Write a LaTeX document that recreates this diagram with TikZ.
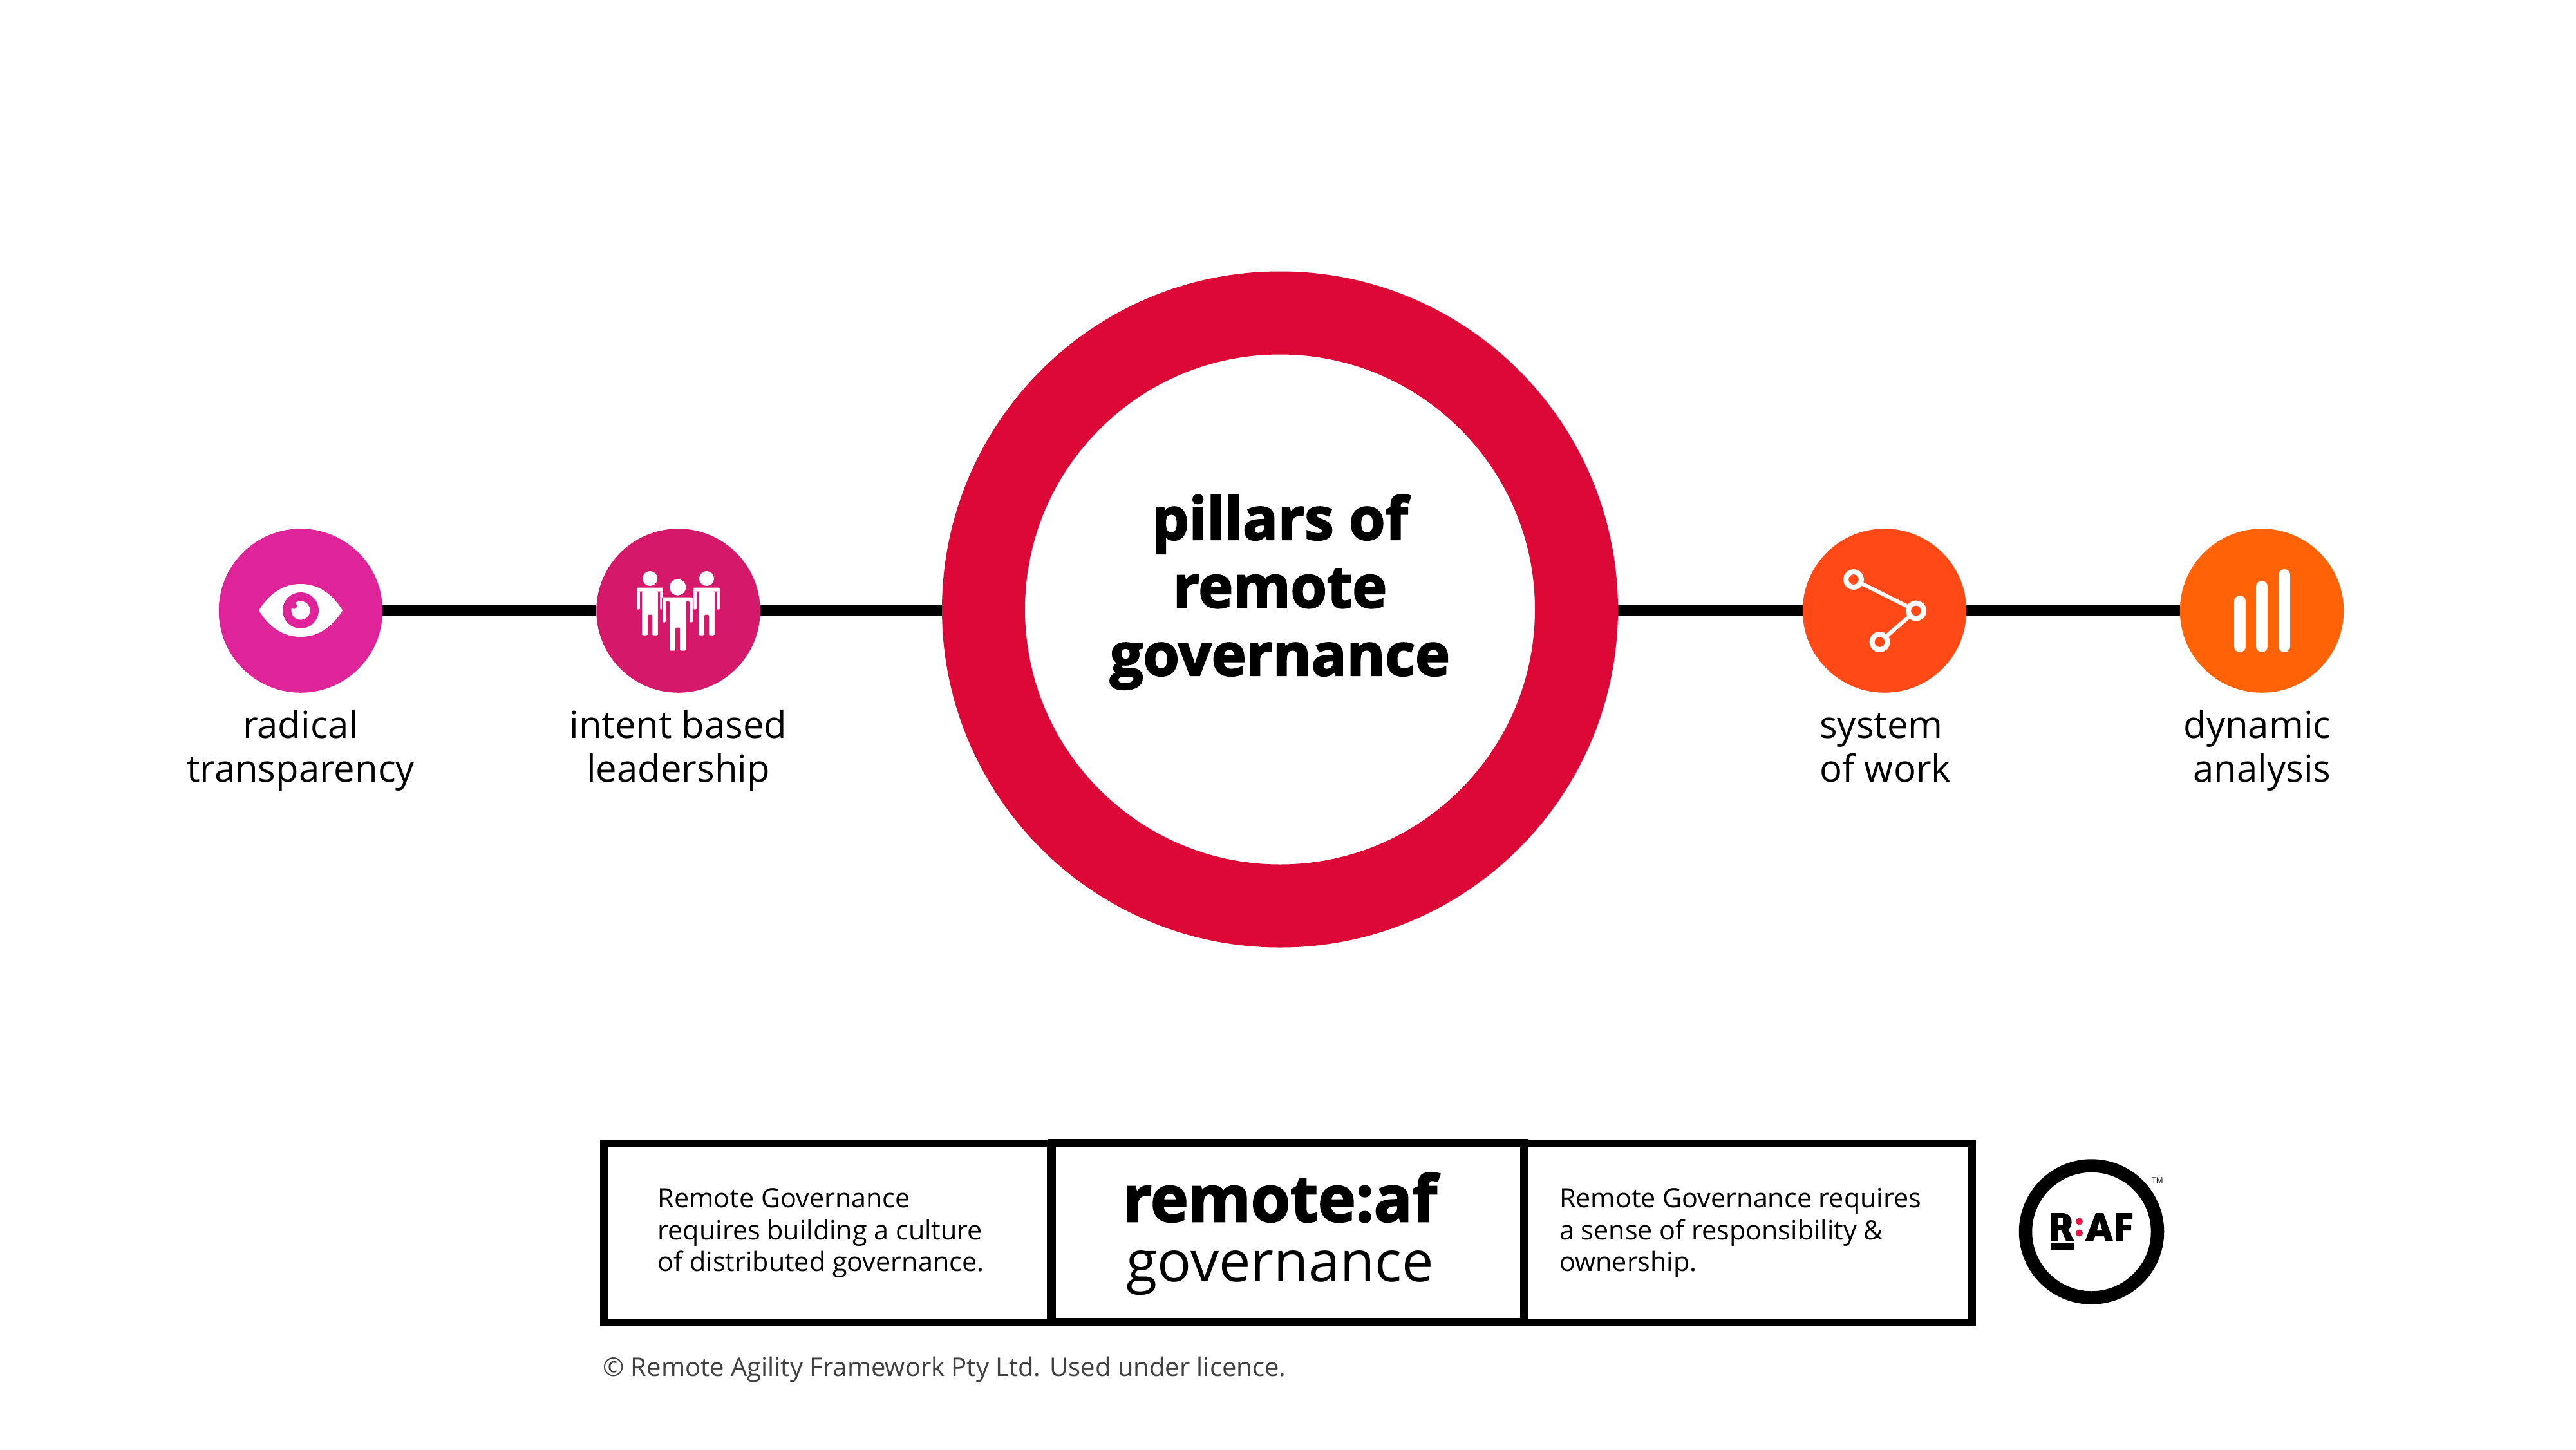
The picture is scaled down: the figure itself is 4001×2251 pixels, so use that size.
\documentclass[tikz,border=0pt]{standalone}
\usepackage{fontspec}
\setmainfont{Open Sans}
\newfontfamily\osxb[BoldFeatures={FakeBold=2.6}]{Open Sans}
\definecolor{ringred}{HTML}{DC0835}
\definecolor{cA}{HTML}{DE2498}
\definecolor{cB}{HTML}{D4186A}
\definecolor{cC}{HTML}{FF4A18}
\definecolor{cD}{HTML}{FF6305}
\definecolor{dotred}{HTML}{E8103F}
\tikzset{
  pillar/.style={circle,inner sep=0pt,minimum size=254.5pt},
  spine/.style={line width=17pt,black},
  lbl/.style={inner sep=0pt,font=\fontsize{58}{68}\selectfont,anchor=base},
  note/.style={inner sep=0pt,font=\fontsize{41.3}{49.5}\selectfont,align=left,anchor=base west},
  panel/.style={draw=black,line width=12pt,fill=white,inner sep=0pt,outer sep=0pt,minimum height=278pt,anchor=north west},
  netring/.style={draw=white,line width=8pt},
  netlink/.style={draw=white,line width=6pt},
  bar/.style={white,line width=18pt,line cap=round}
}
\begin{document}
\begin{tikzpicture}[x=1pt,y=-1pt]
\useasboundingbox (0,0) rectangle (4001,2251);
\fill[white] (0,0) rectangle (4001,2251);
\node[pillar] (p1) at (467,948.5) {};
\node[pillar] (p2) at (1053.5,948.5) {};
\node[pillar] (p3) at (2927,948.5) {};
\node[pillar] (p4) at (3513,948.5) {};
\node[circle,inner sep=0pt,minimum size=1050pt] (hub) at (1988,946.5) {};
\draw[spine] (p1) -- (p2);
\draw[spine] (p2) -- (p2 -| hub.center);
\draw[spine] (p3 -| hub.center) -- (p3);
\draw[spine] (p3) -- (p4);
\fill[cA] (p1) circle (127.25);
\fill[cB] (p2) circle (127.25);
\fill[cC] (p3) circle (127.25);
\fill[cD] (p4) circle (127.25);
\fill[white] (hub) circle (400);
\draw[ringred,line width=129pt] (hub) circle (460.5);
\node[align=center,inner sep=0pt,anchor=base,font=\osxb\bfseries\fontsize{91}{105.5}\selectfont] (title) at (1988,1049) {pillars of\\remote\\governance};
% eye
\fill[white] (402,948) .. controls (418,922) and (440,907) .. (467,907) .. controls (494,907) and (516,922) .. (532,948) .. controls (516,974) and (494,989) .. (467,989) .. controls (440,989) and (418,974) .. (402,948) -- cycle;
\fill[cA] (467,948) circle (28);
\fill[white] (467,948) circle (14.5);
\fill[cA] (456.5,941) circle (5);
% people
\foreach \cx/\hy/\hr/\sy/\sw/\ay/\cy/\fy/\lw in {1009.6/898.5/11.5/912/21/947/955/987/13,1097.5/898.5/11.5/912/21/947/955/987/13,1052.6/912/12.7/927/24/967/975/1011/13}{
  \fill[white] (\cx,\hy) circle (\hr);
  \fill[white,draw=cB,line width=1pt,rounded corners=2pt] ({\cx-\sw},\sy) -- ({\cx+\sw},\sy) -- ({\cx+\sw},\ay) -- ({\cx+\sw-6},\ay) -- ({\cx+\sw-6},{\sy+7}) -- ({\cx+\lw},{\sy+7}) -- ({\cx+\lw},\fy) -- ({\cx+3},\fy) -- ({\cx+3},\cy) -- ({\cx-3},\cy) -- ({\cx-3},\fy) -- ({\cx-\lw},\fy) -- ({\cx-\lw},{\sy+7}) -- ({\cx-\sw+6},{\sy+7}) -- ({\cx-\sw+6},\ay) -- ({\cx-\sw},\ay) -- cycle;
}
% network
\draw[netlink] (2879,900) -- (2976,948.5) -- (2919.5,997);
\filldraw[netring,fill=cC] (2879,900) circle (12);
\filldraw[netring,fill=cC] (2976,948.5) circle (12);
\filldraw[netring,fill=cC] (2919.5,997) circle (12);
% bars
\draw[bar] (3479,934) -- (3479,1004);
\draw[bar] (3513,911) -- (3513,1004);
\draw[bar] (3548,893) -- (3548,1004);
% labels
\node[lbl,align=center] (l1) at (467,1214) {radical\\transparency};
\node[lbl,align=center] (l2) at (1053.5,1214) {intent based\\leadership};
\node[lbl,align=left,anchor=base west] (l3) at (2826,1214) {system\\of work};
\node[lbl,align=right,anchor=base east] (l4) at (3620.5,1214) {dynamic\\analysis};
% panels
\node[panel,minimum width=694pt] (left) at (938,1776) {};
\node[panel,minimum width=695pt] (right) at (2368,1776) {};
\node[panel,minimum width=734pt,line width=13pt] (mid) at (1633.5,1775.5) {};
\node[note] (nl) at (1021.5,1974.5) {Remote Governance\\requires building a culture\\of distributed governance.};
\node[note] (nr) at (2422,1974.5) {Remote Governance requires\\a sense of responsibility \&\\ownership.};
\node[inner sep=0pt,anchor=base,font=\osxb\bfseries\fontsize{99}{99}\selectfont] (brand) at (1988,1897) {remote:af};
\node[inner sep=0pt,anchor=base,font=\fontsize{88}{88}\selectfont] (gov) at (1988,1990) {governance};
\node[inner sep=0pt,anchor=base west,text=black!75,font=\fontsize{40}{48}\selectfont] (copy) at (936,2137.5) {© Remote Agility Framework Pty Ltd. Used under licence.};
% logo
\node[circle,draw=black,line width=20.5pt,inner sep=0pt,minimum size=205pt] (logo) at (3248.5,1913) {};
\fill (3185.5,1884) -- (3185.5,1927.5) -- (3196,1927.5) -- (3196,1911) -- (3202,1911) -- (3209,1927.5) -- (3221.5,1927.5) -- (3212.5,1909) .. controls (3220,1905) and (3221,1884) .. (3203,1884) -- cycle;
\fill[white] (3196,1892) rectangle (3204,1903);
\fill (3185.5,1931) rectangle (3222,1941.5);
\fill[dotred] (3229.5,1897) circle (5.5) (3229.5,1915) circle (5.5);
\fill (3238.5,1927.5) -- (3255,1884) -- (3267,1884) -- (3282,1927.5) -- (3270,1927.5) -- (3268,1920) -- (3254,1920) -- (3251,1927.5) -- cycle;
\fill[white] (3257,1911) -- (3261,1896) -- (3265,1911) -- cycle;
\fill (3286,1884) -- (3312,1884) -- (3312,1893) -- (3297,1893) -- (3297,1902) -- (3310,1902) -- (3310,1911) -- (3297,1911) -- (3297,1927.5) -- (3286,1927.5) -- cycle;
\node[inner sep=0pt,anchor=base west,font=\fontsize{12}{12}\selectfont] (tm) at (3342,1837) {TM};
\end{tikzpicture}
\end{document}
